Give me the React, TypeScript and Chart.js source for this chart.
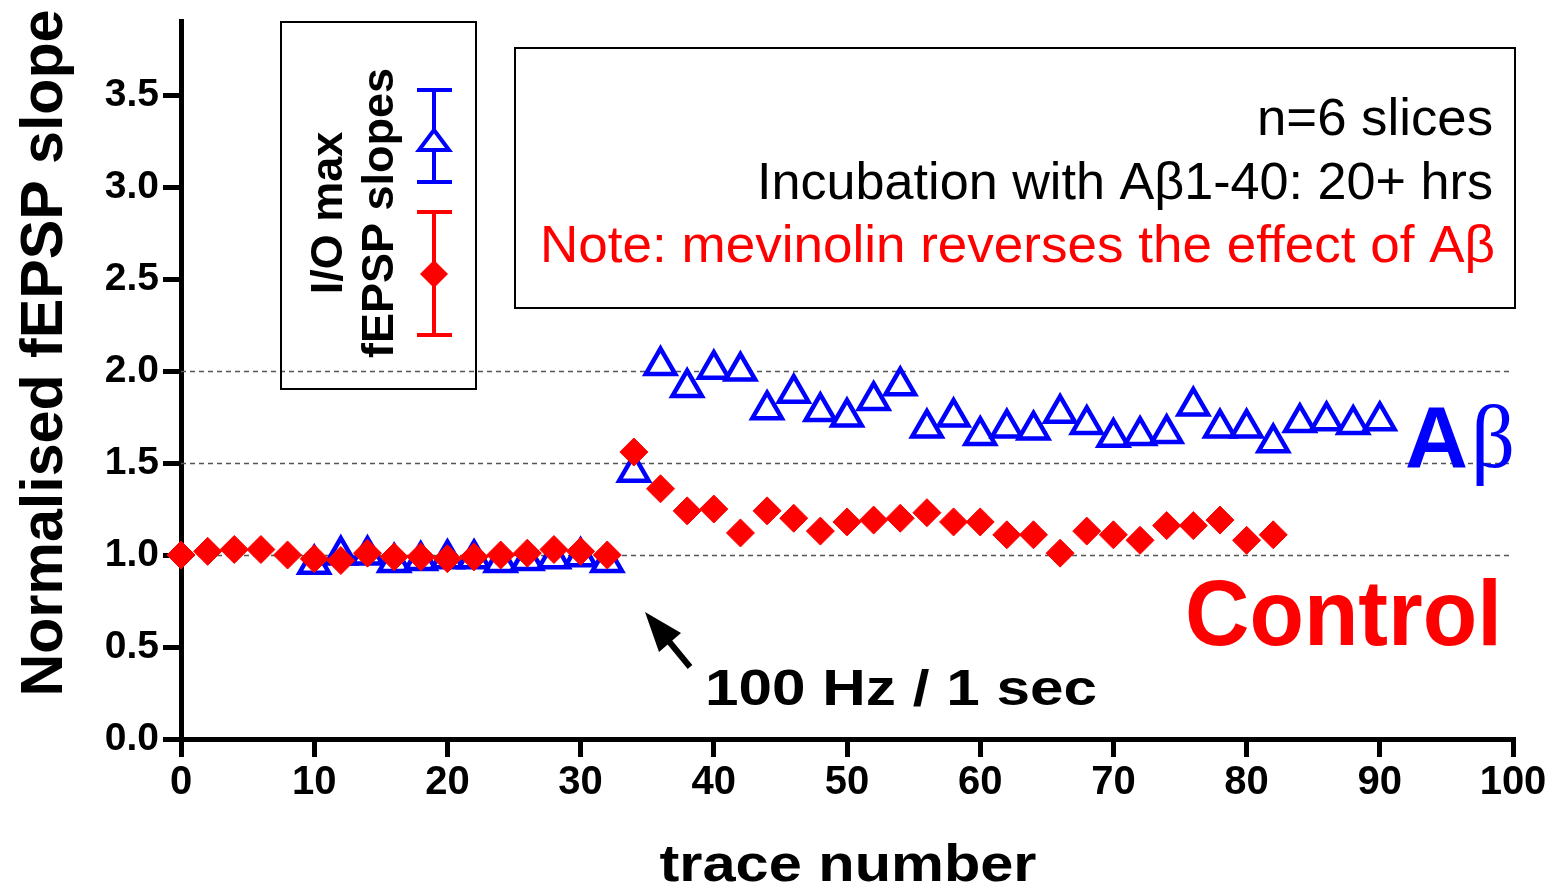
import React, { useEffect, useRef } from 'react';
import { Chart, registerables } from 'chart.js';

Chart.register(...registerables);

// ---- Data ----
const controlX = [0, 2, 4, 6, 8, 10, 12, 14, 16, 18, 20, 22, 24, 26, 28, 30, 32, 34, 36, 38, 40, 42, 44, 46, 48, 50, 52, 54, 56, 58, 60, 62, 64, 66, 68, 70, 72, 74, 76, 78, 80, 82];
const controlY = [1.00, 1.02, 1.03, 1.03, 1.00, 0.98, 0.97, 1.01, 0.99, 0.99, 0.98, 0.99, 1.00, 1.01, 1.03, 1.02, 1.00, 1.56, 1.36, 1.24, 1.25, 1.12, 1.24, 1.20, 1.13, 1.18, 1.19, 1.20, 1.23, 1.18, 1.18, 1.11, 1.11, 1.01, 1.13, 1.11, 1.08, 1.16, 1.16, 1.19, 1.08, 1.11];

const abetaX = [10, 12, 14, 16, 18, 20, 22, 24, 26, 28, 30, 32, 34, 36, 38, 40, 42, 44, 46, 48, 50, 52, 54, 56, 58, 60, 62, 64, 66, 68, 70, 72, 74, 76, 78, 80, 82, 84, 86, 88, 90];
const abetaY = [0.95, 1.00, 1.00, 0.96, 0.97, 0.98, 0.98, 0.96, 0.97, 0.98, 0.99, 0.96, 1.45, 2.03, 1.91, 2.01, 2.00, 1.79, 1.88, 1.78, 1.75, 1.84, 1.92, 1.69, 1.75, 1.65, 1.69, 1.68, 1.77, 1.71, 1.64, 1.65, 1.66, 1.81, 1.69, 1.69, 1.61, 1.72, 1.73, 1.71, 1.73];

const xTickValues = [0, 10, 20, 30, 40, 50, 60, 70, 80, 90, 100];
const yTickValues = [0, 0.5, 1.0, 1.5, 2.0, 2.5, 3.0, 3.5];
const referenceLines = [1.0, 1.5, 2.0];

const yTitle = 'Normalised fEPSP slope';
const xTitle = 'trace number';
const infoLines = ['n=6 slices', 'Incubation with A\u03b21-40: 20+ hrs', 'Note: mevinolin reverses the effect of A\u03b2'];
const legendLines = ['I/O max', 'fEPSP slopes'];
const stimulusLabel = '100 Hz / 1 sec';
const controlLabel = 'Control';

const SANS = "'Liberation Sans', Arial, sans-serif";
const SERIF = "'Liberation Serif', 'Times New Roman', serif";

function fitText(ctx: CanvasRenderingContext2D, text: string, x: number, y: number, font: string, targetW: number | null, align: CanvasTextAlign, color: string, rot = 0) {
  ctx.save();
  ctx.font = font;
  ctx.fillStyle = color;
  ctx.textBaseline = 'alphabetic';
  ctx.textAlign = align;
  const w = ctx.measureText(text).width;
  const sx = targetW ? targetW / w : 1;
  ctx.translate(x, y);
  if (rot) ctx.rotate(rot);
  ctx.scale(sx, 1);
  ctx.fillText(text, 0, 0);
  ctx.restore();
}

const refLinePlugin = {
  id: 'refLines',
  beforeDatasetsDraw(chart: any) {
    const { ctx, chartArea, scales } = chart;
    ctx.save();
    ctx.strokeStyle = '#555';
    ctx.lineWidth = 1.5;
    ctx.setLineDash([5, 4]);
    referenceLines.forEach((v) => {
      const y = Math.round(scales.y.getPixelForValue(v)) + 0.5;
      ctx.beginPath();
      ctx.moveTo(chartArea.left, y);
      ctx.lineTo(chartArea.right, y);
      ctx.stroke();
    });
    ctx.restore();
  },
};

const annotationPlugin = {
  id: 'annotations',
  afterDraw(chart: any) {
    const { ctx } = chart;
    // Axis titles
    fitText(ctx, yTitle, 62, 353, `bold 59px ${SANS}`, 687, 'center', '#000', -Math.PI / 2);
    fitText(ctx, xTitle, 848, 881, `bold 52px ${SANS}`, 377, 'center', '#000');

    // Info box
    ctx.save();
    ctx.strokeStyle = '#000';
    ctx.lineWidth = 2;
    ctx.strokeRect(515, 48, 1000, 260);
    ctx.restore();
    fitText(ctx, infoLines[0], 1493, 135, `52px ${SANS}`, 236, 'right', '#000');
    fitText(ctx, infoLines[1], 1493, 199, `52px ${SANS}`, 736, 'right', '#000');
    fitText(ctx, infoLines[2], 1495, 262, `52px ${SANS}`, 955, 'right', '#ff0000');

    // Legend box
    ctx.save();
    ctx.strokeStyle = '#000';
    ctx.lineWidth = 2;
    ctx.strokeRect(281, 22, 195, 367);
    ctx.restore();
    fitText(ctx, legendLines[0], 342, 213, `bold 45px ${SANS}`, null, 'center', '#000', -Math.PI / 2);
    fitText(ctx, legendLines[1], 393, 213, `bold 45px ${SANS}`, null, 'center', '#000', -Math.PI / 2);
    // legend error-bar glyphs
    ctx.save();
    ctx.lineWidth = 4;
    ctx.strokeStyle = '#0000ff';
    ctx.beginPath();
    ctx.moveTo(434, 90); ctx.lineTo(434, 182);
    ctx.moveTo(417, 90); ctx.lineTo(452, 90);
    ctx.moveTo(417, 182); ctx.lineTo(452, 182);
    ctx.stroke();
    ctx.beginPath();
    ctx.moveTo(434, 130); ctx.lineTo(449, 150); ctx.lineTo(419, 150); ctx.closePath();
    ctx.fillStyle = '#fff';
    ctx.fill();
    ctx.stroke();
    ctx.strokeStyle = '#ff0000';
    ctx.beginPath();
    ctx.moveTo(434, 212); ctx.lineTo(434, 335);
    ctx.moveTo(417, 212); ctx.lineTo(452, 212);
    ctx.moveTo(417, 335); ctx.lineTo(452, 335);
    ctx.stroke();
    ctx.fillStyle = '#ff0000';
    ctx.beginPath();
    ctx.moveTo(434, 260); ctx.lineTo(448, 274); ctx.lineTo(434, 288); ctx.lineTo(420, 274); ctx.closePath();
    ctx.fill();
    ctx.restore();

    // Stimulus arrow
    ctx.save();
    ctx.strokeStyle = '#000';
    ctx.fillStyle = '#000';
    ctx.lineWidth = 6;
    ctx.beginPath();
    ctx.moveTo(690, 667); ctx.lineTo(667, 639);
    ctx.stroke();
    ctx.beginPath();
    ctx.moveTo(645, 612); ctx.lineTo(681, 633); ctx.lineTo(659, 652); ctx.closePath();
    ctx.fill();
    ctx.restore();
    fitText(ctx, stimulusLabel, 705, 705, `bold 50px ${SANS}`, 392, 'left', '#000');

    // Series labels
    fitText(ctx, controlLabel, 1185, 645, `bold 92px ${SANS}`, 317, 'left', '#ff0000');
    fitText(ctx, 'A', 1405, 467, `bold 88px ${SANS}`, 63, 'left', '#0000ff');
    fitText(ctx, '\u03b2', 1471, 467, `88px ${SERIF}`, 44, 'left', '#0000ff');
  },
};

export default function App() {
  const canvasRef = useRef<HTMLCanvasElement | null>(null);

  useEffect(() => {
    document.body.style.margin = '0';
    const canvas = canvasRef.current;
    if (!canvas) return;
    const chart = new Chart(canvas, {
      type: 'scatter',
      data: {
        datasets: [
          {
            label: 'Control',
            data: controlX.map((x, i) => ({ x, y: controlY[i] })),
            pointStyle: 'rectRot',
            pointRadius: 14,
            pointBackgroundColor: '#ff0000',
            pointBorderColor: '#ff0000',
            pointBorderWidth: 1,
            showLine: false,
            clip: false,
          },
          {
            label: 'A\u03b2',
            data: abetaX.map((x, i) => ({ x, y: abetaY[i] })),
            pointStyle: 'triangle',
            pointRadius: 17,
            pointBackgroundColor: '#ffffff',
            pointBorderColor: '#0000ff',
            pointBorderWidth: 4.5,
            showLine: false,
            clip: false,
          },
        ],
      },
      options: {
        responsive: false,
        animation: false,
        devicePixelRatio: 1,
        layout: { padding: { top: 15, right: 36, left: 0, bottom: 0 } },
        plugins: {
          legend: { display: false },
          tooltip: { enabled: false },
          title: { display: false },
        },
        events: [],
        scales: {
          x: {
            type: 'linear',
            min: 0,
            max: 100,
            z: 1,
            afterBuildTicks: (s: any) => { s.ticks = xTickValues.map((v) => ({ value: v })); },
            afterFit: (s: any) => { s.height = 151; s.paddingLeft = 0; s.paddingRight = 0; },
            ticks: {
              color: '#000',
              padding: 2,
              maxRotation: 0,
              autoSkip: false,
              font: { family: SANS, weight: 'bold', size: 40 },
              callback: (v: any) => String(v),
            },
            grid: { display: true, drawOnChartArea: false, drawTicks: true, tickLength: 18, tickWidth: 5, tickColor: '#000', lineWidth: 5, color: '#000' },
            border: { display: true, color: '#000', width: 5 },
          },
          y: {
            type: 'linear',
            min: 0,
            max: 3.9,
            z: 1,
            afterBuildTicks: (s: any) => { s.ticks = yTickValues.map((v) => ({ value: v })); },
            afterFit: (s: any) => { s.width = 181; s.paddingTop = 0; s.paddingBottom = 0; },
            ticks: {
              color: '#000',
              padding: 4,
              autoSkip: false,
              font: { family: SANS, weight: 'bold', size: 39 },
              callback: (v: any) => Number(v).toFixed(1),
            },
            grid: { display: true, drawOnChartArea: false, drawTicks: true, tickLength: 18, tickWidth: 5, tickColor: '#000', lineWidth: 5, color: '#000' },
            border: { display: true, color: '#000', width: 5 },
          },
        },
      },
      plugins: [refLinePlugin, annotationPlugin],
    } as any);
    return () => chart.destroy();
  }, []);

  return (
    <div style={{ position: 'absolute', left: 0, top: 0, width: 1549, height: 890, background: '#fff' }}>
      <canvas ref={canvasRef} width={1549} height={890} style={{ display: 'block' }} />
    </div>
  );
}
